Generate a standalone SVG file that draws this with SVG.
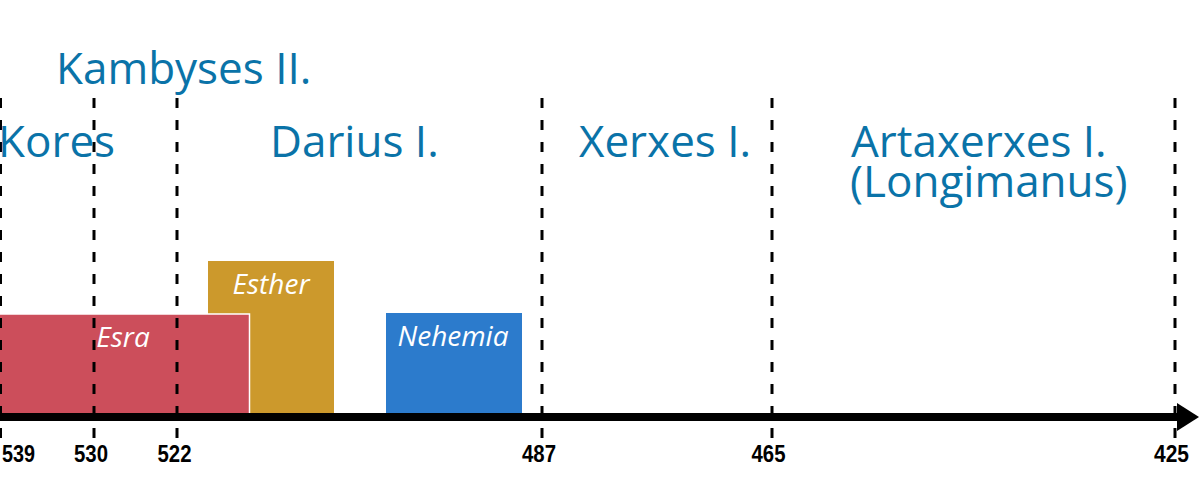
<svg xmlns="http://www.w3.org/2000/svg" width="1200" height="495" viewBox="0 0 1200 495">
<style>
.title{font-family:"Open Sans","Noto Sans",sans-serif;font-size:44px;fill:#0a73a8}
.lbl{font-family:"Open Sans","Noto Sans",sans-serif;font-style:italic;font-size:28px;fill:#ffffff;text-anchor:middle}
.yr{font-family:"Liberation Sans","Arial",sans-serif;font-weight:bold;font-size:24px;fill:#000000;text-anchor:middle}
.dash{stroke:#000000;stroke-width:3;stroke-dasharray:10 12;fill:none}
</style>
<rect width="1200" height="495" fill="#ffffff"/>
<g id="blocks">
<g id="esther"><rect x="208" y="261" width="126" height="156" fill="#cc992c"/><text class="lbl" x="271" y="294">Esther</text></g>
<g id="esra"><rect x="-2" y="314" width="251.5" height="103" fill="#cc4e5b" stroke="#ffffff" stroke-width="1.5"/><text class="lbl" x="123" y="347">Esra</text></g>
<g id="nehemia"><rect x="386" y="313" width="136" height="104" fill="#2c7bcc"/><text class="lbl" x="453" y="346">Nehemia</text></g>
</g>
<g id="connectors">
<line class="dash" x1="0.5" y1="98" x2="0.5" y2="440"/>
<line class="dash" x1="94" y1="98" x2="94" y2="440"/>
<line class="dash" x1="177" y1="98" x2="177" y2="440"/>
<line class="dash" x1="542" y1="98" x2="542" y2="440"/>
<line class="dash" x1="772" y1="98" x2="772" y2="440"/>
<line class="dash" x1="1175" y1="98" x2="1175" y2="440"/>
<line x1="0" y1="417" x2="1180" y2="417" stroke="#000000" stroke-width="8"/>
<polygon points="1177,403 1199,417 1177,431" fill="#000000"/>
</g>
<g id="rulers">
<text class="title" x="56" y="84">Kambyses II.</text>
<text class="title" x="-2" y="157">Kores</text>
<text class="title" x="270" y="157">Darius I.</text>
<text class="title" x="579" y="157">Xerxes I.</text>
<text class="title" x="851" y="157">Artaxerxes I.</text>
<text class="title" x="850" y="197">(Longimanus)</text>
</g>
<g id="years">
<text class="yr" x="2" y="462" style="text-anchor:start" textLength="33" lengthAdjust="spacingAndGlyphs">539</text>
<text class="yr" x="91" y="462" textLength="34" lengthAdjust="spacingAndGlyphs">530</text>
<text class="yr" x="174.5" y="462" textLength="34" lengthAdjust="spacingAndGlyphs">522</text>
<text class="yr" x="539" y="462" textLength="34" lengthAdjust="spacingAndGlyphs">487</text>
<text class="yr" x="768.5" y="462" textLength="34" lengthAdjust="spacingAndGlyphs">465</text>
<text class="yr" x="1171.5" y="462" textLength="35" lengthAdjust="spacingAndGlyphs">425</text>
</g>
</svg>
